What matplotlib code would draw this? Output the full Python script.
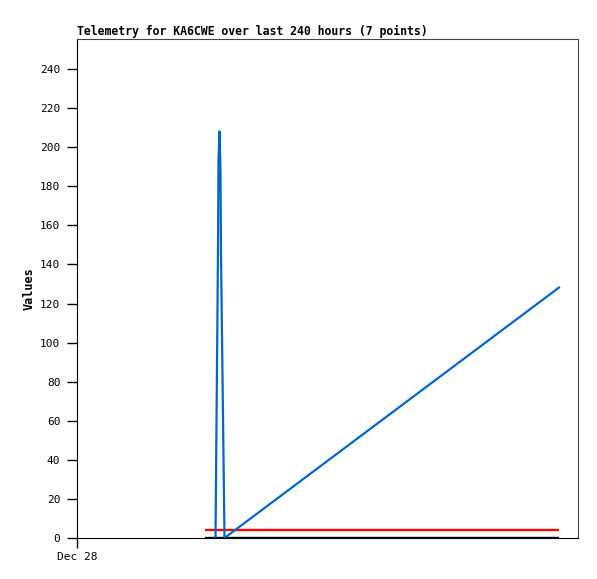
import matplotlib
matplotlib.use("Agg")
import matplotlib.pyplot as plt

# hours since Dec 28 00:00
blue_hours = [66.35, 66.59, 67.07, 67.54, 67.78, 68.26, 68.74, 68.98, 69.46, 69.94, 70.42, 70.66, 230.9]
blue_vals = [0, 29.6, 88.4, 147.1, 192.5, 208.4, 187.4, 145.6, 104.2, 62.8, 20.4, 0, 128.2]

red_hours = [61.3, 230.9]
red_vals = [4, 4]

black_hours = [61.3, 230.9]
black_vals = [0, 0]

yticks = list(range(0, 241, 20))
xtick_pos = [0]
xtick_labels = ['Dec 28']

plt.rcParams['font.family'] = ['DejaVu Sans Mono']

fig = plt.figure(figsize=(5.97, 5.79), dpi=100)
ax = fig.add_axes([77/597, 1 - 538/579, 501/597, 499/579])

ax.plot(black_hours, black_vals, color='black', lw=1.7, solid_capstyle='butt')
ax.plot(red_hours, red_vals, color='#ff0000', lw=1.7, solid_capstyle='butt')
ax.plot(blue_hours, blue_vals, color='#0066cc', lw=1.6, solid_joinstyle='miter')

ax.set_xlim(0, 240)
ax.set_ylim(0, 255.4)
ax.set_yticks(yticks)
ax.set_yticklabels([str(v) for v in yticks], fontsize=8)
ax.set_xticks(xtick_pos)
ax.set_xticklabels(xtick_labels, fontsize=8)
ax.tick_params(axis='y', direction='out', length=7, width=1, pad=5)
ax.tick_params(axis='x', direction='out', length=7, width=1, pad=3)

for s in ['left', 'bottom']:
    ax.spines[s].set_color('black')
for s in ['top', 'right']:
    ax.spines[s].set_color('#444444')

ax.set_ylabel('Values', fontsize=8.5, fontweight='bold', labelpad=3)
ax.set_title('Telemetry for KA6CWE over last 240 hours (7 points)',
             fontsize=8.3, fontweight='bold', loc='left', pad=3)

fig.savefig('out.png', dpi=100)
